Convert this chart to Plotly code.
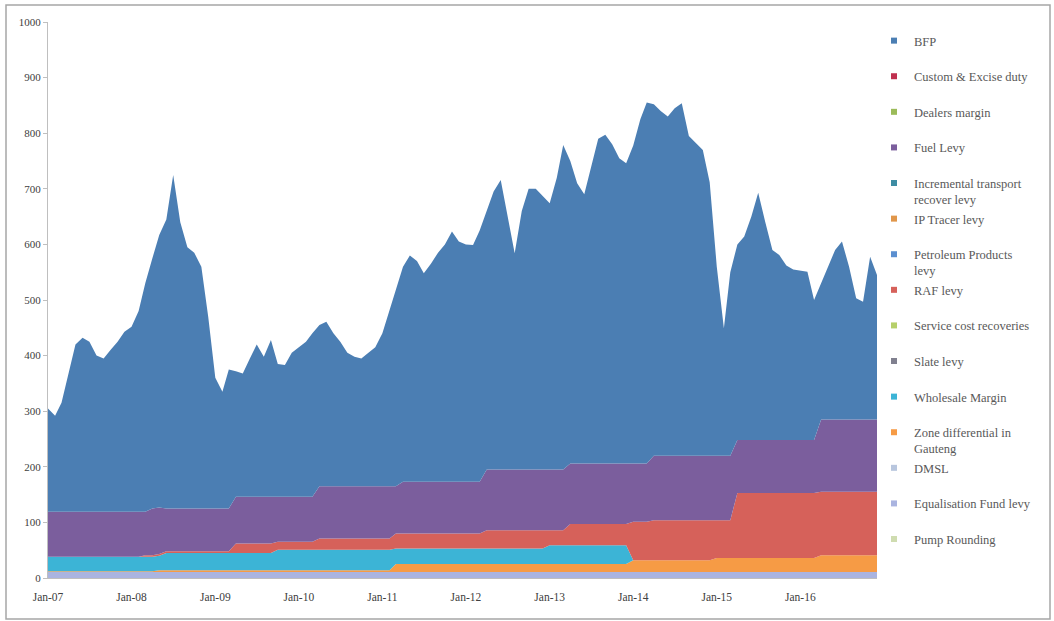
import pandas as pd
import plotly.graph_objects as go

# ---------------- data (cents per litre, monthly Jan-2007 .. Dec-2016) ----------------
MONTHS = pd.date_range("2007-01-01", periods=120, freq="MS")

BFP = [
    186, 173, 196, 251, 301, 313, 306, 281, 276, 291, 306, 324,
    333, 361, 411, 450, 490, 520, 600, 515, 470, 460, 435, 345,
    235, 210, 250, 226, 222, 249, 274, 252, 282, 239, 237, 259,
    269, 279, 294, 290, 296, 275, 260, 240, 233, 230, 240, 250,
    275, 315, 355, 387, 407, 397, 375, 392, 412, 427, 450, 432,
    427, 426, 452, 465, 500, 521, 455, 389, 465, 505, 505, 493,
    479, 525, 584, 544, 504, 484, 534, 584, 591, 574, 549, 540,
    572, 619, 649, 632, 620, 610, 625, 634, 575, 562, 550, 492,
    340, 229, 330, 352, 366, 402, 445, 392, 342, 333, 314, 307,
    305, 303, 252, 245, 275, 305, 320, 275, 218, 212, 293, 260,
]
FUEL_LEVY = [
    81, 81, 81, 81, 81, 81, 81, 81, 81, 81, 81, 81,
    81, 81, 78, 84, 84, 77, 77, 77, 77, 77, 77, 77,
    77, 77, 77, 84, 84, 84, 84, 84, 84, 81, 81, 81,
    81, 81, 81, 94, 94, 94, 94, 94, 94, 94, 94, 94,
    94, 94, 85, 93, 93, 93, 93, 93, 93, 93, 93, 93,
    93, 93, 93, 109, 109, 109, 109, 109, 109, 109, 109, 109,
    109, 109, 109, 109, 109, 109, 109, 109, 109, 109, 109, 109,
    105, 105, 105, 116, 116, 116, 116, 116, 116, 116, 116, 116,
    116, 116, 116, 95, 95, 95, 95, 95, 95, 95, 95, 95,
    95, 95, 95, 130, 130, 130, 130, 130, 130, 130, 130, 130,
]
RAF_LEVY = [
    0, 0, 0, 0, 0, 0, 0, 0, 0, 0, 0, 0,
    0, 0, 3, 3, 3, 3, 3, 3, 3, 3, 3, 3,
    3, 3, 3, 17, 17, 17, 17, 17, 17, 14, 14, 14,
    14, 14, 14, 20, 20, 20, 20, 20, 20, 20, 20, 20,
    20, 20, 27, 27, 27, 27, 27, 27, 27, 27, 27, 27,
    27, 27, 27, 33, 33, 33, 33, 33, 33, 33, 33, 33,
    27, 27, 27, 38, 38, 38, 38, 38, 38, 38, 38, 38,
    69, 69, 69, 72, 72, 72, 72, 72, 72, 72, 72, 72,
    68, 68, 68, 117, 117, 117, 117, 117, 117, 117, 117, 117,
    117, 117, 117, 114, 114, 114, 114, 114, 114, 114, 114, 114,
]
WHOLESALE_MARGIN = [
    26, 26, 26, 26, 26, 26, 26, 26, 26, 26, 26, 26,
    26, 26, 26, 26, 26, 31, 31, 31, 31, 31, 31, 31,
    31, 31, 31, 31, 31, 31, 31, 31, 31, 37, 37, 37,
    37, 37, 37, 37, 37, 37, 37, 37, 37, 37, 37, 37,
    37, 37, 28, 28, 28, 28, 28, 28, 28, 28, 28, 28,
    28, 28, 28, 28, 28, 28, 28, 28, 28, 28, 28, 28,
    34, 34, 34, 34, 34, 34, 34, 34, 34, 34, 34, 34,
    0, 0, 0, 0, 0, 0, 0, 0, 0, 0, 0, 0,
    0, 0, 0, 0, 0, 0, 0, 0, 0, 0, 0, 0,
    0, 0, 0, 0, 0, 0, 0, 0, 0, 0, 0, 0,
]
ZONE_DIFF = [
    1, 1, 1, 1, 1, 1, 1, 1, 1, 1, 1, 1,
    1, 1, 1, 1, 3, 3, 3, 3, 3, 3, 3, 3,
    3, 3, 3, 3, 3, 3, 3, 3, 3, 3, 3, 3,
    3, 3, 3, 3, 3, 3, 3, 3, 3, 3, 3, 3,
    3, 3, 14, 14, 14, 14, 14, 14, 14, 14, 14, 14,
    14, 14, 14, 14, 14, 14, 14, 14, 14, 14, 14, 14,
    14, 14, 14, 14, 14, 14, 14, 14, 14, 14, 14, 14,
    21, 21, 21, 21, 21, 21, 21, 21, 21, 21, 21, 21,
    25, 25, 25, 25, 25, 25, 25, 25, 25, 25, 25, 25,
    25, 25, 25, 30, 30, 30, 30, 30, 30, 30, 30, 30,
]
EQUALISATION = [
    11, 11, 11, 11, 11, 11, 11, 11, 11, 11, 11, 11,
    11, 11, 11, 11, 11, 11, 11, 11, 11, 11, 11, 11,
    11, 11, 11, 11, 11, 11, 11, 11, 11, 11, 11, 11,
    11, 11, 11, 11, 11, 11, 11, 11, 11, 11, 11, 11,
    11, 11, 11, 11, 11, 11, 11, 11, 11, 11, 11, 11,
    11, 11, 11, 11, 11, 11, 11, 11, 11, 11, 11, 11,
    11, 11, 11, 11, 11, 11, 11, 11, 11, 11, 11, 11,
    11, 11, 11, 11, 11, 11, 11, 11, 11, 11, 11, 11,
    11, 11, 11, 11, 11, 11, 11, 11, 11, 11, 11, 11,
    11, 11, 11, 11, 11, 11, 11, 11, 11, 11, 11, 11,
]
NEGLIGIBLE = [0] * 120  # components too small to be visible in the chart

# legend order (top to bottom) -> (label, values, colour)
SERIES = [
    ("BFP", BFP, "#4b7eb3"),
    ("Custom & Excise duty", NEGLIGIBLE, "#c0304f"),
    ("Dealers margin", NEGLIGIBLE, "#9bbb59"),
    ("Fuel Levy", FUEL_LEVY, "#7b5e9d"),
    ("Incremental transport<br>recover levy", NEGLIGIBLE, "#3d8ca3"),
    ("IP Tracer levy", NEGLIGIBLE, "#e0964a"),
    ("Petroleum Products<br>levy", NEGLIGIBLE, "#5b8fd0"),
    ("RAF levy", RAF_LEVY, "#d6615a"),
    ("Service cost recoveries", NEGLIGIBLE, "#b6cf6a"),
    ("Slate levy", NEGLIGIBLE, "#80808f"),
    ("Wholesale Margin", WHOLESALE_MARGIN, "#3cb4d6"),
    ("Zone differential in<br>Gauteng", ZONE_DIFF, "#f69b45"),
    ("DMSL", NEGLIGIBLE, "#b8c6de"),
    ("Equalisation Fund levy", EQUALISATION, "#aab4e0"),
    ("Pump Rounding", NEGLIGIBLE, "#cfdcb0"),
]

FONT = "Liberation Serif, DejaVu Serif, serif"

fig = go.Figure()

# legend entries (small square markers like the original)
for i, (name, vals, col) in enumerate(SERIES):
    label = name if "<br>" in name else name + "<br> "
    fig.add_trace(go.Scatter(
        x=[None], y=[None], mode="markers", name=label,
        legendgroup=f"g{i}",
        marker=dict(symbol="square", size=6, color=col),
        hoverinfo="skip",
    ))

# stacked areas, bottom layer first
for i in range(len(SERIES) - 1, -1, -1):
    name, vals, col = SERIES[i]
    fig.add_trace(go.Scatter(
        x=MONTHS, y=vals, name=name.replace("<br>", " "),
        legendgroup=f"g{i}", showlegend=False,
        stackgroup="one", mode="lines",
        line=dict(width=0, color=col), fillcolor=col,
    ))

W, H = 1054, 621
PLOT_L, PLOT_R, PLOT_T, PLOT_B = 48, 877, 22, 578   # target page pixels
pw, ph = PLOT_R - PLOT_L, PLOT_B - PLOT_T


def px_x(x):
    return (x - PLOT_L) / pw


def px_y(y):
    return (PLOT_B - y) / ph


fig.update_layout(
    width=W, height=H,
    margin=dict(l=PLOT_L, r=W - PLOT_R, t=PLOT_T, b=H - PLOT_B),
    paper_bgcolor="white", plot_bgcolor="white",
    font=dict(family=FONT, size=11, color="#404040"),
    showlegend=True,
    legend=dict(
        x=px_x(874), y=px_y(26), xanchor="left", yanchor="top",
        traceorder="grouped", tracegroupgap=0.1, valign="top",
        maxheight=600,
        font=dict(family=FONT, size=12.5, color="#595959"),
        bgcolor="rgba(0,0,0,0)",
    ),
    xaxis=dict(
        type="date",
        range=[MONTHS[0], MONTHS[-1]],
        tickformat="%b-%y", dtick="M12", tick0="2007-01-01",
        showgrid=False, zeroline=False,
        showline=True, linecolor="#bfbfbf", linewidth=1,
        ticks="", ticklabelstandoff=8,
        tickfont=dict(size=11.5, color="#404040"),
    ),
    yaxis=dict(
        range=[0, 1000], dtick=100, tickformat="d",
        showgrid=False, zeroline=False,
        showline=True, linecolor="#bfbfbf", linewidth=1,
        ticks="outside", ticklen=4, tickcolor="#bfbfbf",
        tickfont=dict(size=11, color="#404040"),
    ),
    shapes=[dict(
        type="rect", xref="paper", yref="paper",
        x0=px_x(6), x1=px_x(1050), y0=px_y(619), y1=px_y(5),
        line=dict(color="#a6a6a6", width=1.5), fillcolor="rgba(0,0,0,0)",
        layer="below",
    )],
)

fig.write_html(
    "out.html",
    config={"displayModeBar": False},
    post_script="document.body.style.margin='0px';"
                "document.body.style.overflow='hidden';",
)
